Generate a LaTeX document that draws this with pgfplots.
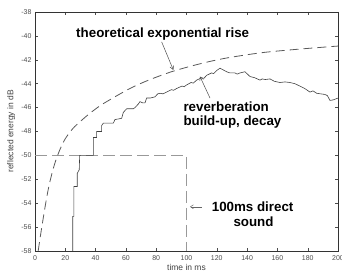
\documentclass[border=0pt]{standalone}
\usepackage{pgfplots}
\pgfplotsset{compat=1.18}
\usepackage{fontspec}
\setmainfont{Liberation Sans}
\usetikzlibrary{arrows.meta}
\begin{document}
\begin{tikzpicture}
\begin{axis}[
  scale only axis, width=303bp, height=239bp,
  xmin=0, xmax=200, ymin=-58, ymax=-38,
  xtick={0,20,...,200}, ytick={-58,-56,...,-38},
  tick align=inside, xtick pos=both, ytick pos=both,
  major tick length=3bp,
  axis line style={black!80, line width=0.5pt},
  tick style={black!70, line width=0.4pt},
  /pgf/number format/assume math mode=true,
  tick label style={font=\fontsize{7}{8}\selectfont, text=black!70},
  xticklabel style={yshift=-1bp},
  xlabel={time in ms}, ylabel={reflected energy in dB},
  x label style={at={(axis description cs:0.5,-0.071)}, anchor=center, font=\fontsize{8.5}{9}\selectfont, text=black!75},
  y label style={at={(axis description cs:-0.079,0.5)}, anchor=center, font=\fontsize{8.5}{9}\selectfont, text=black!75},
]
% direct sound (100 ms)
\addplot[black!40, line width=1.3pt, dash pattern=on 12bp off 5bp] coordinates {(0,-50) (100,-50) (100,-58)};
% theoretical exponential rise
\addplot[black!65, line width=0.8pt, dash pattern=on 9bp off 5bp, smooth] coordinates {
(2.1,-58.0) (3.5,-56.8) (5.5,-55.2) (7,-54.05) (8.8,-52.8) (11,-51.6) (13.5,-50.5)
(16.5,-49.5) (20,-48.6) (25,-47.75) (30,-47.15) (36,-46.5) (42.9,-45.85) (50,-45.3)
(62.7,-44.4) (75,-43.7) (91.3,-42.95) (110,-42.3) (126.5,-41.85) (150,-41.4)
(175,-41.1) (200,-40.85)};
% reverberation build-up, decay
\addplot[black!75, line width=0.6pt] coordinates {
(24.9,-58) (24.9,-55.1) (25.7,-55.1) (25.7,-52.6) (27.9,-52.6) (27.9,-51.5) (29.2,-51.2)
(29.5,-50) (38.5,-50) (38.5,-48.5) (40.7,-48.5) (40.7,-48.0) (44,-48.0) (44,-47.5)
(45.1,-47.3) (51.7,-47.3) (52.8,-47.0) (57.2,-46.9) (58.3,-46.4) (60.5,-46.1) (64.9,-46.1)
(66,-46.0) (68.2,-45.7) (69.3,-45.5) (71,-45.6) (72.6,-45.6) (73.7,-45.2) (76,-45.2)
(79.2,-45.1) (81,-44.85) (82.5,-44.8) (84.5,-44.85) (86.9,-44.7) (90,-44.5) (91.5,-44.55)
(93.5,-44.4) (97,-44.2) (98.5,-44.25) (100.1,-44.1) (103,-43.9) (104.5,-43.95) (106.7,-43.7)
(110,-43.5) (111.5,-43.55) (113.3,-43.3) (116.5,-43.1) (118,-43.15) (119.9,-42.9) (122.1,-42.7)
(124.3,-42.85) (126.5,-43.0) (128.7,-43.1) (132,-43.1) (133.5,-43.2) (135.3,-43.1) (138.6,-43.0)
(141.9,-43.4) (145,-43.5) (148.5,-43.7) (150,-43.6) (152,-43.65) (155.1,-43.6) (158,-43.8)
(161.7,-43.9) (165,-43.85) (168.3,-43.9) (171.5,-44.0) (174.9,-44.2) (178,-44.4) (181.5,-44.7)
(183.5,-44.6) (185.9,-44.8) (188.5,-44.85) (191.4,-44.9) (193,-45.0) (194.7,-45.4) (197,-45.35) (200,-45.2)};
% annotations
\node[anchor=base west, font=\fontsize{13.4}{14}\selectfont\bfseries] at (axis cs:24.9,-40.1) {theoretical exponential rise};
\draw[black!70, line width=0.5pt, -{Straight Barb[length=3.5bp,width=4bp]}] (axis cs:83.6,-40.5) -- (axis cs:91.3,-42.85);
\node[anchor=base west, font=\fontsize{13.4}{14}\selectfont\bfseries] at (axis cs:95.7,-46.33) {reverberation};
\node[anchor=base west, font=\fontsize{13.4}{14}\selectfont\bfseries] at (axis cs:95.7,-47.5) {build-up, decay};
\draw[black!70, line width=0.5pt, -{Straight Barb[length=3.5bp,width=4bp]}] (axis cs:115.5,-45.2) -- (axis cs:108.9,-43.4);
\node[anchor=base west, font=\fontsize{13.4}{14}\selectfont\bfseries] at (axis cs:114.4,-54.71) {100ms direct};
\node[anchor=base west, font=\fontsize{13.4}{14}\selectfont\bfseries] at (axis cs:128.7,-55.97) {sound};
\draw[black!60, line width=0.5pt, -{Straight Barb[length=3bp,width=4bp]}] (axis cs:110,-54.3) -- (axis cs:102.3,-54.3);
\end{axis}
\pgfresetboundingbox
\path (-35bp,-27bp) rectangle (307bp,251bp);
\end{tikzpicture}
\end{document}
